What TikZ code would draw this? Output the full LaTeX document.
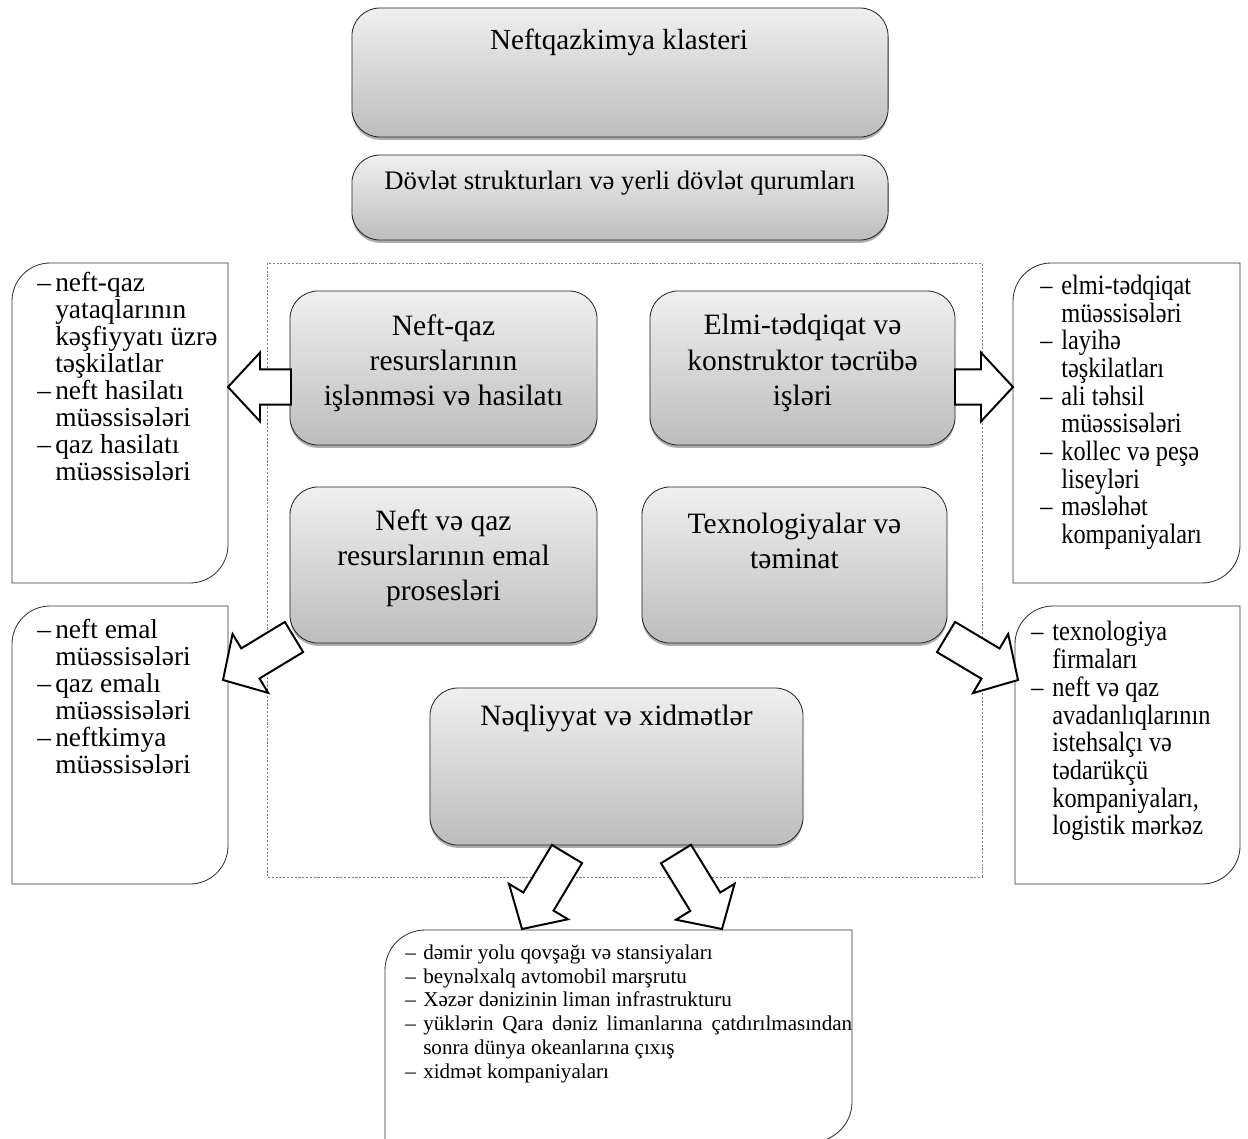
\documentclass[tikz,border=0pt]{standalone}
\usepackage{fontspec}
\setmainfont{Liberation Serif}
\usepackage{graphicx}
\usepackage{tikz}
\usetikzlibrary{positioning}
\usetikzlibrary{calc,shadows}
\tikzstyle{mainbox} = [draw=black!85, line width=0.6pt, rounded corners=0.7cm, top color=gray!12, bottom color=gray!52, drop shadow={shadow xshift=0pt, shadow yshift=-0.07cm, fill=gray!80, opacity=0.8}]
\tikzstyle{maintext} = [font=\fontsize{21}{25}\selectfont, align=center, inner sep=0pt]
\tikzstyle{titletext} = [font=\fontsize{20.7}{24}\selectfont, inner sep=0pt]
\tikzstyle{sidetext} = [font=\fontsize{19.5}{19.2}\selectfont, align=left, inner sep=0pt, anchor=north west]
\tikzstyle{sidetextr} = [font=\fontsize{17.3}{16.96}\selectfont, inner sep=0pt, anchor=north west]
\tikzstyle{bottomtext} = [font=\fontsize{15}{16.9}\selectfont, align=left, inner sep=0pt, anchor=north west]
\tikzstyle{sidebox} = [draw=black!80, line width=0.6pt, fill=white]
\tikzstyle{blockarr} = [draw=black, line width=1.4pt, fill=white, line join=miter]
\tikzstyle{frame} = [draw=gray, line width=0.4pt, dash pattern=on 1.5pt off 1.2pt]
\def\dl{\makebox[12.8pt][l]{--}}
\def\ind{\hspace*{12.8pt}}
\def\dr{\makebox[15pt][l]{--}}
\def\indr{\hspace*{15pt}}
% right hand lists are set a bit taller
\newcommand{\tall}[1]{\scalebox{1}[1.15]{\begin{tabular}{@{}l@{}}#1\end{tabular}}}
% side box: corners top-left and bottom-right rounded
\newcommand{\sidebox}[5]{\draw[sidebox] (#1,#4) -- (#1,#2+#5) .. controls (#1,#2+0.45*#5) and (#1+0.45*#5,#2) .. (#1+#5,#2) -- (#3,#2) -- (#3,#4-#5) .. controls (#3,#4-0.45*#5) and (#3-0.45*#5,#4) .. (#3-#5,#4) -- cycle;}
% hollow block arrow from #1 (tail) to #2 (tip)
\newcommand{\blockarrow}[2]{\coordinate (ah) at ($(#2)!0.8cm!(#1)$);
  \draw[blockarr] ($(#1)!0.44cm!90:(#2)$) -- ($(ah)!0.44cm!-90:(#1)$) -- ($(ah)!0.86cm!-90:(#1)$) -- (#2) -- ($(ah)!0.86cm!90:(#1)$) -- ($(ah)!0.44cm!90:(#1)$) -- ($(#1)!0.44cm!-90:(#2)$) -- cycle;}
\begin{document}
\begin{tikzpicture}[x=0.025cm, y=-0.025cm]
      \useasboundingbox (0,0) rectangle (1248,1138);
      \draw[frame] (267,263) rectangle (982,877);
      % top
      \node[mainbox, minimum width=13.4cm, minimum height=3.225cm] (kl) at (620,72.5) {};
      \node[titletext] (klt) at (619,42) {Neftqazkimya klasteri};
      \node[mainbox, minimum width=13.4cm, minimum height=2.125cm] (dq) at (620,197.5) {};
      \node[titletext, font=\fontsize{19}{23}\selectfont] (dqt) at (620,183) {Dövlət strukturları və yerli dövlət qurumları};
      % inner boxes
      \node[mainbox, minimum width=7.675cm, minimum height=3.85cm] (b1) at (443.5,368) {};
      \node[mainbox, minimum width=7.625cm, minimum height=3.85cm] (b2) at (802.5,368) {};
      \node[mainbox, minimum width=7.675cm, minimum height=3.9cm] (b3) at (443.5,565) {};
      \node[mainbox, minimum width=7.625cm, minimum height=3.9cm] (b4) at (794.5,565) {};
      \node[mainbox, minimum width=9.325cm, minimum height=3.925cm] (b5) at (616.5,766.5) {};
      \node[maintext] (b1t) at (443.5,363) {Neft-qaz\\resurslarının\\işlənməsi və hasilatı};
      \node[maintext] (b2t) at (802.5,363) {Elmi-tədqiqat və\\konstruktor təcrübə\\işləri};
      \node[maintext] (b3t) at (443.5,558) {Neft və qaz\\resurslarının emal\\prosesləri};
      \node[maintext] (b4t) at (794.5,540.5) {Texnologiyalar və\\təminat};
      \node[maintext] (b5t) at (616.5,718) {Nəqliyyat və xidmətlər};
      % side boxes
      \sidebox{12}{263}{228}{583}{38}
      \sidebox{1013}{263}{1240}{583}{38}
      \sidebox{12}{606}{228}{884}{38}
      \sidebox{1015}{606}{1240}{884}{38}
      \sidebox{385}{930}{852}{1142}{40}
      \node[sidetext] (s1) at (37,272) {\dl neft-qaz\\\ind yataqlarının\\\ind kəşfiyyatı üzrə\\\ind təşkilatlar\\\dl neft hasilatı\\\ind müəssisələri\\\dl qaz hasilatı\\\ind müəssisələri};
      \node[sidetextr] (s2) at (1040,275) {\tall{\dr elmi-tədqiqat\\\indr müəssisələri\\\dr layihə\\\indr təşkilatları\\\dr ali təhsil\\\indr müəssisələri\\\dr kollec və peşə\\\indr liseyləri\\\dr məsləhət\\\indr kompaniyaları}};
      \node[sidetext] (s3) at (37,619) {\dl neft emal\\\ind müəssisələri\\\dl qaz emalı\\\ind müəssisələri\\\dl neftkimya\\\ind müəssisələri};
      \node[sidetextr] (s4) at (1031,621) {\tall{\dr texnologiya\\\indr firmaları\\\dr neft və qaz\\\indr avadanlıqlarının\\\indr istehsalçı və\\\indr tədarükçü\\\indr kompaniyaları,\\\indr logistik mərkəz}};
      \node[bottomtext] (s5) at (405,944.5) {\dl dəmir yolu qovşağı və stansiyaları\\\dl beynəlxalq avtomobil marşrutu\\\dl Xəzər dənizinin liman infrastrukturu\\\dl \makebox[305pt][s]{yüklərin Qara dəniz limanlarına çatdırılmasından}\\\ind sonra dünya okeanlarına çıxış\\\dl xidmət kompaniyaları};
      % arrows
      \coordinate (a1) at (291,387);
      \coordinate (e1) at (228,387);
      \coordinate (a2) at (955,387);
      \coordinate (e2) at (1013,387);
      \coordinate (a3) at (294,637);
      \coordinate (e3) at (223,680);
      \coordinate (a4) at (946,637);
      \coordinate (e4) at (1018,680);
      \coordinate (a5) at (567,854);
      \coordinate (e5) at (522,929);
      \coordinate (a6) at (676,854);
      \coordinate (e6) at (722,929);
      \blockarrow{a1}{e1}
      \blockarrow{a2}{e2}
      \blockarrow{a3}{e3}
      \blockarrow{a4}{e4}
      \blockarrow{a5}{e5}
      \blockarrow{a6}{e6}
\end{tikzpicture}
\end{document}
